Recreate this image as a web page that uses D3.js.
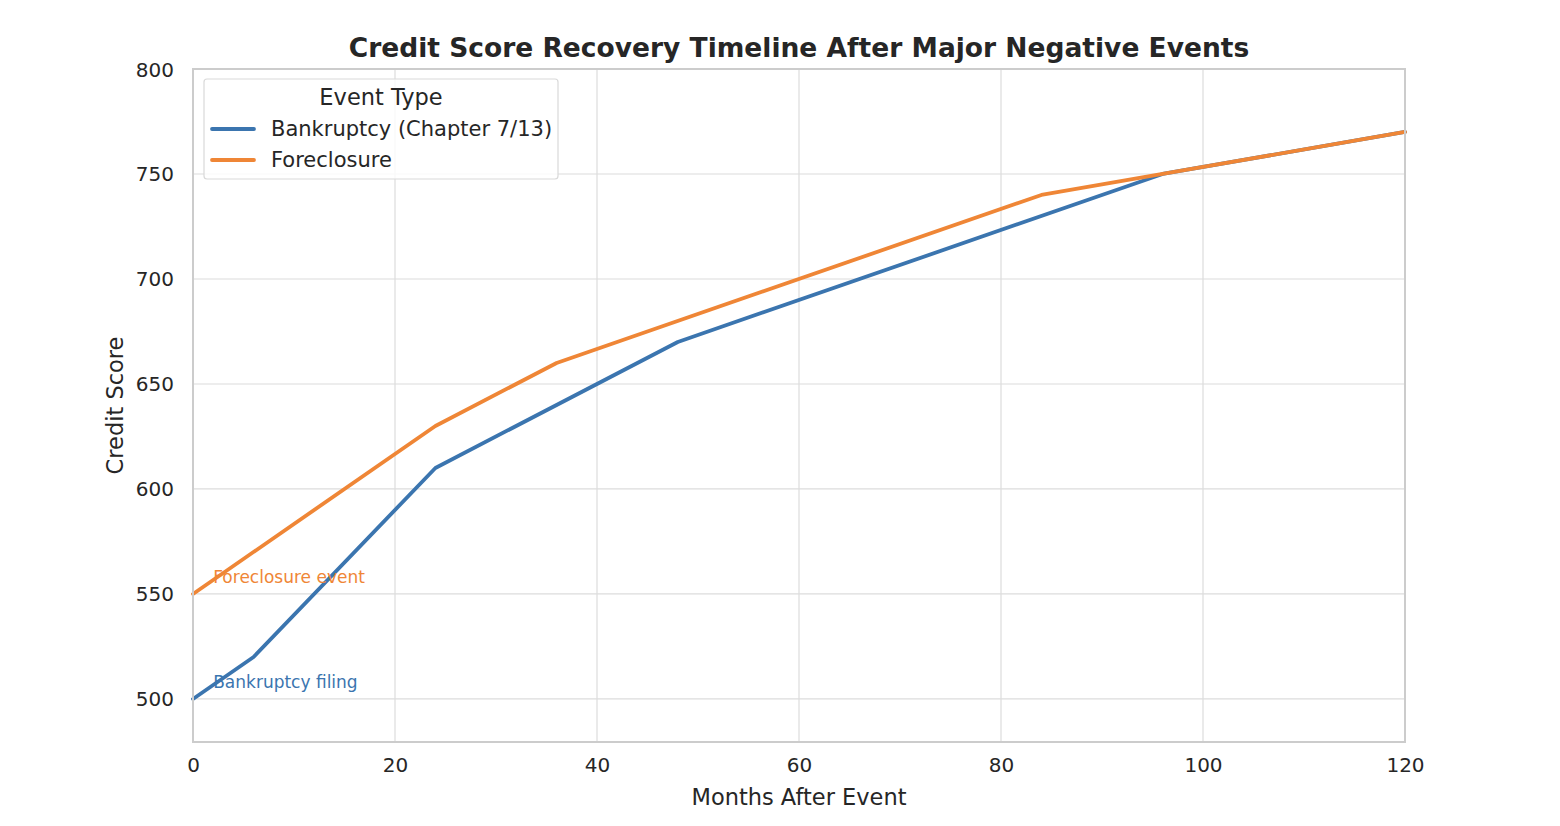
<!DOCTYPE html>
<html>
<head>
<meta charset="utf-8">
<script src="https://cdn.jsdelivr.net/npm/d3@7"></script>
<style>
  body { margin: 0; background: #fff; }
  svg { font-family: "DejaVu Sans", sans-serif; }
</style>
</head>
<body>
<svg id="chart" width="1560" height="826"></svg>
<script>
// datos
var bankruptcyMonths = [0, 6, 24, 48, 96, 120];
var bankruptcyScores = [500, 520, 610, 670, 750, 770];
var foreclosureMonths = [0, 24, 36, 84, 96, 120];
var foreclosureScores = [550, 630, 660, 740, 750, 770];
var seriesNames = ["Bankruptcy (Chapter 7/13)", "Foreclosure"];
var xTicks = [0, 20, 40, 60, 80, 100, 120];
var yTicks = [500, 550, 600, 650, 700, 750, 800];
var annotations = [
    { text: "Foreclosure event", month: 2, score: 555, serie: 1 },
    { text: "Bankruptcy filing", month: 2, score: 505, serie: 0 }
];

const colores = ["#3b75af", "#ef8636"];
const margen = { left: 193, right: 1405, top: 69, bottom: 742 };

const svg = d3.select("#chart");
const x = d3.scaleLinear().domain([0, 120]).range([margen.left, margen.right]);
const y = d3.scaleLinear().domain([479.5, 800]).range([margen.bottom, margen.top]);

// rejilla
svg.append("g").selectAll("line").data(xTicks).join("line")
    .attr("x1", d => x(d)).attr("x2", d => x(d))
    .attr("y1", margen.top).attr("y2", margen.bottom)
    .attr("stroke", "#dcdcdc").attr("stroke-width", 1.2);
svg.append("g").selectAll("line").data(yTicks).join("line")
    .attr("x1", margen.left).attr("x2", margen.right)
    .attr("y1", d => y(d)).attr("y2", d => y(d))
    .attr("stroke", "#dcdcdc").attr("stroke-width", 1.2);

// ejes
const ejeX = svg.append("g").attr("transform", `translate(0,${margen.bottom})`)
    .call(d3.axisBottom(x).tickValues(xTicks).tickSize(0).tickPadding(16));
const ejeY = svg.append("g").attr("transform", `translate(${margen.left},0)`)
    .call(d3.axisLeft(y).tickValues(yTicks).tickSize(0).tickPadding(19));
[ejeX, ejeY].forEach(e => {
    e.select(".domain").remove();
    e.selectAll("text").attr("font-size", 20).attr("fill", "#262626")
        .attr("font-family", "DejaVu Sans, sans-serif");
});
ejeY.selectAll("text").attr("dy", "0.35em");

// series
const series = [
    { nombre: seriesNames[0], puntos: d3.zip(bankruptcyMonths, bankruptcyScores) },
    { nombre: seriesNames[1], puntos: d3.zip(foreclosureMonths, foreclosureScores) }
];
const linea = d3.line().x(d => x(d[0])).y(d => y(d[1]));
series.forEach((s, i) => {
    svg.append("path")
        .attr("d", linea(s.puntos))
        .attr("fill", "none")
        .attr("stroke", colores[i])
        .attr("stroke-width", 3.8)
        .attr("stroke-linecap", "round")
        .attr("stroke-linejoin", "round");
});

// anotaciones
annotations.forEach(a => {
    svg.append("text")
        .attr("x", x(a.month)).attr("y", y(a.score))
        .attr("font-size", 17)
        .attr("fill", colores[a.serie])
        .text(a.text);
});

// borde del área
svg.append("rect")
    .attr("x", margen.left).attr("y", margen.top)
    .attr("width", margen.right - margen.left).attr("height", margen.bottom - margen.top)
    .attr("fill", "none").attr("stroke", "#cccccc").attr("stroke-width", 2);

// títulos
svg.append("text")
    .attr("x", (margen.left + margen.right) / 2).attr("y", 57)
    .attr("text-anchor", "middle").attr("font-size", 26.5).attr("font-weight", "bold")
    .attr("fill", "#262626")
    .text("Credit Score Recovery Timeline After Major Negative Events");
svg.append("text")
    .attr("x", (margen.left + margen.right) / 2).attr("y", 805)
    .attr("text-anchor", "middle").attr("font-size", 22.5).attr("fill", "#262626")
    .text("Months After Event");
svg.append("text")
    .attr("transform", `translate(123,${(margen.top + margen.bottom) / 2}) rotate(-90)`)
    .attr("text-anchor", "middle").attr("font-size", 22.5).attr("fill", "#262626")
    .text("Credit Score");

// leyenda
const leyenda = svg.append("g");
leyenda.append("rect")
    .attr("x", 204).attr("y", 79).attr("width", 354).attr("height", 100)
    .attr("rx", 3).attr("fill", "#fff").attr("fill-opacity", 0.8)
    .attr("stroke", "#d9d9d9").attr("stroke-width", 1.2);
leyenda.append("text")
    .attr("x", 381).attr("y", 105).attr("text-anchor", "middle")
    .attr("font-size", 22.5).attr("fill", "#262626").text("Event Type");
series.forEach((s, i) => {
    const yy = 129 + i * 31;
    leyenda.append("line")
        .attr("x1", 212).attr("x2", 254).attr("y1", yy).attr("y2", yy)
        .attr("stroke", colores[i]).attr("stroke-width", 3.8).attr("stroke-linecap", "round");
    leyenda.append("text")
        .attr("x", 271).attr("y", yy + 7)
        .attr("font-size", 21).attr("fill", "#262626").text(s.nombre);
});
</script>
</body>
</html>
